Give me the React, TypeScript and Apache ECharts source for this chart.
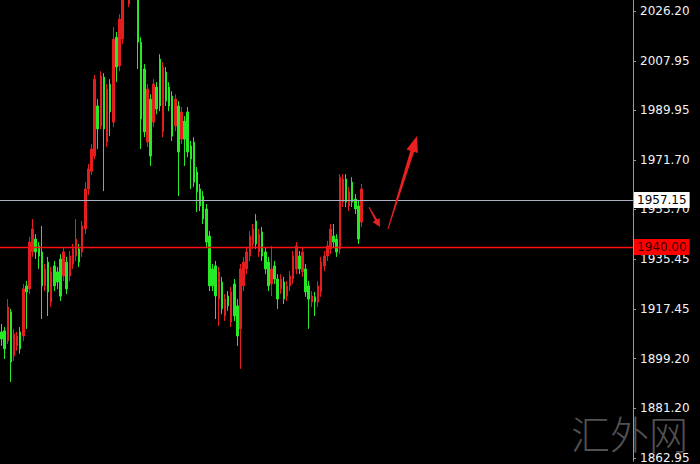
import React, { useEffect, useRef } from "react";
import * as echarts from "echarts";

// Price scale labels on the right axis
const priceTicks = [2026.2, 2007.95, 1989.95, 1971.7, 1953.7, 1935.45, 1917.45, 1899.2, 1881.2, 1862.95];

// Reference price levels
const levelUpper = 1957.15;
const levelLower = 1940.0;

// Candle OHLC columns
const opens = [
  1909.0, 1909.4, 1905.7, 1916.3, 1900.2, 1903.9, 1909.0, 1907.5, 1925.8, 1924.7,
  1938.2, 1942.9, 1940.4, 1938.2, 1925.8, 1934.5, 1919.9, 1933.1, 1930.9, 1935.6,
  1929.4, 1934.5, 1929.4, 1933.8, 1936.7, 1939.3, 1938.2, 1946.6, 1961.2, 1967.7,
  1973.2, 1991.5, 1984.2, 2002.0, 1978.3, 1999.5, 1985.6, 2016.6, 2006.1, 2015.9,
  2032.3, 2028.7, 2041.4, 2037.8, 2032.3, 2014.8, 2005.0, 1978.3, 1994.0, 1985.6,
  1998.4, 2008.6, 1982.0, 2003.9, 1998.4, 1995.1, 1984.2, 1991.5, 1979.4, 1986.0,
  1989.3, 1976.9, 1978.3, 1967.4, 1961.2, 1958.6, 1953.9, 1944.0, 1932.0, 1933.1,
  1921.0, 1927.2, 1914.8, 1922.1, 1912.6, 1926.5, 1918.5, 1910.1, 1925.8, 1932.0,
  1936.7, 1941.1, 1949.5, 1938.2, 1945.5, 1938.2, 1934.5, 1926.5, 1933.1, 1928.3,
  1924.7, 1927.2, 1922.1, 1925.8, 1928.3, 1932.0, 1936.7, 1930.9, 1932.0, 1925.8,
  1919.9, 1921.8, 1919.9, 1923.6, 1933.1, 1936.7, 1939.3, 1944.0, 1942.9, 1939.3,
  1956.4, 1964.8, 1955.0, 1963.7, 1957.5, 1955.0, 1949.1,
];
const closes = [
  1906.4, 1902.8, 1918.1, 1898.0, 1908.3, 1907.5, 1902.8, 1924.7, 1923.6, 1941.8,
  1946.6, 1938.2, 1936.7, 1925.8, 1932.0, 1923.6, 1930.9, 1925.8, 1927.2, 1922.1,
  1938.2, 1924.7, 1936.7, 1939.3, 1942.9, 1934.5, 1947.7, 1961.2, 1968.5, 1975.8,
  2001.3, 1983.1, 2002.4, 1983.1, 1997.7, 1989.3, 2015.9, 2005.7, 2023.2, 2034.1,
  2039.6, 2036.0, 2034.1, 2032.3, 2014.8, 1986.7, 1982.0, 1997.7, 1973.2, 1999.5,
  1990.4, 1991.5, 2005.7, 1993.3, 1991.5, 1980.5, 1994.0, 1974.7, 1989.3, 1979.4,
  1974.7, 1972.1, 1963.7, 1960.1, 1955.0, 1950.2, 1941.8, 1925.8, 1925.8, 1922.1,
  1930.9, 1917.4, 1921.0, 1918.5, 1923.6, 1914.8, 1907.5, 1932.0, 1934.5, 1938.2,
  1944.0, 1946.6, 1941.1, 1944.7, 1936.7, 1932.0, 1925.8, 1932.0, 1928.3, 1921.0,
  1928.3, 1921.0, 1925.8, 1929.4, 1936.7, 1940.4, 1932.0, 1938.2, 1923.6, 1921.0,
  1922.1, 1919.9, 1925.8, 1934.5, 1936.7, 1940.4, 1946.6, 1941.8, 1938.2, 1965.5,
  1964.8, 1956.4, 1960.1, 1956.4, 1953.9, 1942.9, 1961.2,
];
const lows = [
  1903.9, 1899.1, 1904.6, 1890.7, 1898.4, 1902.1, 1901.0, 1905.7, 1910.1, 1922.8,
  1936.4, 1935.6, 1932.0, 1913.7, 1923.9, 1914.8, 1918.1, 1923.9, 1924.7, 1920.3,
  1927.6, 1922.8, 1927.6, 1932.0, 1934.9, 1932.7, 1936.4, 1944.7, 1959.0, 1966.3,
  1972.1, 1975.8, 1983.1, 1960.4, 1976.5, 1980.5, 1983.8, 2000.2, 2004.2, 2014.1,
  2031.0, 2027.6, 2032.3, 2031.2, 2005.0, 1975.8, 1980.1, 1976.5, 1969.6, 1983.8,
  1988.5, 1989.6, 1980.1, 1991.5, 1989.6, 1978.7, 1982.3, 1958.6, 1977.6, 1969.6,
  1972.8, 1961.2, 1961.9, 1952.8, 1953.1, 1948.4, 1940.0, 1923.9, 1923.9, 1913.7,
  1911.2, 1915.5, 1913.0, 1916.7, 1910.8, 1913.0, 1903.9, 1895.5, 1923.9, 1930.1,
  1934.9, 1939.3, 1939.3, 1936.4, 1934.9, 1930.1, 1923.9, 1922.1, 1926.5, 1917.4,
  1922.8, 1919.2, 1920.3, 1923.9, 1926.5, 1930.1, 1930.1, 1929.1, 1921.8, 1910.1,
  1918.1, 1914.8, 1918.1, 1921.8, 1931.2, 1934.9, 1937.4, 1940.0, 1936.4, 1937.4,
  1954.6, 1954.6, 1953.1, 1954.6, 1952.0, 1941.1, 1947.3,
];
const highs = [
  1911.9, 1910.8, 1921.0, 1917.4, 1910.1, 1909.0, 1910.8, 1926.5, 1927.6, 1943.7,
  1950.2, 1944.7, 1941.8, 1947.7, 1933.8, 1936.4, 1932.7, 1934.9, 1932.7, 1937.4,
  1940.0, 1936.4, 1938.5, 1941.1, 1950.2, 1941.1, 1949.5, 1963.7, 1970.3, 1977.6,
  2002.8, 1994.0, 2004.2, 2003.5, 1999.5, 2001.3, 2020.3, 2018.5, 2025.0, 2037.8,
  2043.3, 2039.6, 2045.1, 2041.4, 2034.9, 2016.6, 2006.8, 1999.5, 1995.8, 2001.3,
  2000.2, 2010.4, 2007.5, 2005.7, 2000.2, 1996.9, 1995.8, 1993.3, 1991.1, 1987.8,
  1991.1, 1978.7, 1980.1, 1969.2, 1963.0, 1960.4, 1955.7, 1945.8, 1933.8, 1934.9,
  1932.7, 1929.1, 1922.8, 1923.9, 1925.4, 1928.3, 1921.0, 1933.8, 1936.4, 1940.0,
  1945.8, 1948.4, 1952.0, 1946.6, 1947.3, 1940.0, 1936.4, 1940.4, 1934.9, 1930.1,
  1930.1, 1929.1, 1927.6, 1931.2, 1938.5, 1941.8, 1938.5, 1940.0, 1933.8, 1927.6,
  1923.9, 1923.6, 1927.6, 1936.4, 1938.5, 1942.2, 1948.4, 1948.4, 1944.7, 1966.6,
  1966.6, 1966.6, 1961.9, 1965.5, 1959.3, 1956.8, 1963.0,
];

// Number of bar slots on the time axis (chart leaves empty room on the right)
const slotCount = 204;

const UP = "#e41e1e";
const DOWN = "#26ea26";

export default function App() {
  const ref = useRef<HTMLDivElement>(null);

  useEffect(() => {
    if (!ref.current) return;
    const chart = echarts.init(ref.current, undefined, { renderer: "svg" });

    const categories = Array.from({ length: slotCount }, (_, i) => String(i));
    const candles = opens.map((o, i) => [o, closes[i], lows[i], highs[i]]);

    const tagLabel = (text: string, bg: string, fg: string) => ({
      show: true,
      position: "end",
      formatter: "{t|" + text + "}",
      color: fg,
      textBorderColor: "transparent",
      textBorderWidth: 0,
      backgroundColor: bg,
      padding: [1, 3, 1, 3],
      distance: 1,
      rich: {
        t: {
          color: fg,
          fontFamily: "DejaVu Sans",
          fontSize: 12,
          lineHeight: 14,
          textBorderColor: "transparent",
          textBorderWidth: 0,
        },
      },
    });

    chart.setOption({
      animation: false,
      backgroundColor: "#000000",
      grid: { left: 0, right: 67, top: 0, bottom: 0 },
      xAxis: {
        type: "category",
        data: categories,
        show: false,
        boundaryGap: true,
      },
      yAxis: {
        type: "value",
        position: "right",
        min: 1861.75,
        max: 2030.2,
        splitLine: { show: false },
        axisLine: { show: true, lineStyle: { color: "#9a9a9a", width: 1 } },
        axisTick: {
          show: true,
          length: 3,
          customValues: priceTicks,
          lineStyle: { color: "#9a9a9a" },
        },
        axisLabel: {
          customValues: priceTicks,
          formatter: (v: number) => v.toFixed(2),
          color: "#f2f2f2",
          fontFamily: "DejaVu Sans",
          fontSize: 12,
          margin: 7,
        },
      },
      series: [
        {
          type: "candlestick",
          data: candles,
          barWidth: 2,
          clip: true,
          itemStyle: {
            color: UP,
            color0: DOWN,
            borderColor: UP,
            borderColor0: DOWN,
            borderWidth: 1,
          },
          markLine: {
            silent: true,
            symbol: ["none", "none"],
            data: [
              {
                yAxis: levelUpper,
                lineStyle: { color: "#aab2c4", width: 1, type: "solid", opacity: 1 },
                label: tagLabel(levelUpper.toFixed(2), "#ffffff", "#000000"),
              },
              {
                yAxis: levelLower,
                lineStyle: { color: "#ff1010", width: 1.4, type: "solid", opacity: 1 },
                label: tagLabel(levelLower.toFixed(2), "#ff0000", "#3a0000"),
              },
            ],
          },
        },
      ],
      graphic: [
        {
          type: "text",
          left: 571,
          top: 412,
          z: -1,
          style: {
            text: "汇外网",
            fill: "#525252",
            font: '300 39px "Noto Sans CJK SC"',
          },
        },
        {
          type: "polygon",
          z: 10,
          shape: {
            points: [
              [368.6, 207.2],
              [375.0, 220.6],
              [372.6, 221.9],
              [380, 227],
              [379.6, 218.1],
              [377.2, 219.4],
              [369.4, 206.8],
            ],
          },
          style: { fill: "#e82020" },
        },
        {
          type: "polygon",
          z: 10,
          shape: {
            points: [
              [387.5, 228.9],
              [410.3, 150.7],
              [406.5, 149.5],
              [417, 136],
              [417.9, 153.1],
              [414.1, 151.9],
              [388.5, 229.1],
            ],
          },
          style: { fill: "#e82020" },
        },
      ],
    });

    return () => chart.dispose();
  }, []);

  return (
    <div
      ref={ref}
      style={{ position: "fixed", left: 0, top: 0, width: 700, height: 464, background: "#000" }}
    />
  );
}
